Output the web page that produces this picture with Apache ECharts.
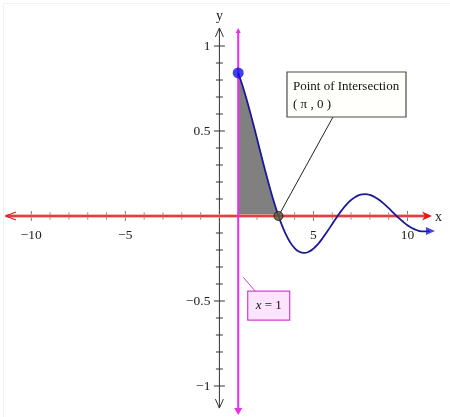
<!DOCTYPE html>
<html><head><meta charset="utf-8">
<script src="https://cdn.jsdelivr.net/npm/echarts@6/dist/echarts.min.js"></script>
<style>html,body{margin:0;padding:0;background:#fff}#c{width:450px;height:417px}</style>
</head><body><div id="c"></div>
<script>
// ---- data ----
const curveX = [1,1.25,1.5,1.75,2,2.25,2.5,2.75,3,3.1416,3.25,3.5,3.75,4,4.25,4.5,4.75,5,5.25,5.5,5.75,6,6.25,6.5,6.75,7,7.25,7.5,7.75,8,8.25,8.5,8.75,9,9.25,9.5,9.75,10,10.25,10.5,10.75,11,11.17];
const curveY = [0.8415,0.7592,0.6650,0.5623,0.4546,0.3458,0.2394,0.1388,0.0470,0,-0.0333,-0.1002,-0.1524,-0.1892,-0.2106,-0.2172,-0.2104,-0.1918,-0.1636,-0.1283,-0.0885,-0.0466,-0.0053,0.0331,0.0667,0.0939,0.1135,0.1251,0.1284,0.1237,0.1117,0.0939,0.0714,0.0458,0.0188,-0.0079,-0.0327,-0.0544,-0.0717,-0.0838,-0.0902,-0.0909,-0.0882];
const shadeEndIndex = 9;              // shading from x = 1 to x = π
const startPoint = [1, 0.8415];
const intersectionPoint = [3.1416, 0];
const verticalLineX = 1;
const verticalLineSpan = [1.106, -1.17];
const xAxisSpan = [-11.35, 11.3];
const yAxisSpan = [-1.13, 1.106];
const xTickValues = [-10,-9,-8,-7,-6,-5,-4,-3,-2,-1,1,2,3,4,5,6,7,8,9,10];
const yTickValues = [-1,-0.9,-0.8,-0.7,-0.6,-0.5,-0.4,-0.3,-0.2,-0.1,0.1,0.2,0.3,0.4,0.5,0.6,0.7,0.8,0.9,1];
const xLabelValues = [-10,-5,5,10];
const yLabelValues = [-1,-0.5,0.5,1];
const calloutText = 'Point of Intersection\n( π , 0 )';
const lineLabelAnchor = [1, -0.36];

const curveData = curveX.map((x, i) => [x, curveY[i]]);
const shadeData = curveData.slice(0, shadeEndIndex + 1);
const endPoint = curveData[curveData.length - 1];

const serif = '"Liberation Serif","Times New Roman",serif';
const minus = v => String(v).replace('-', '\u2212');

function isMajor(v, step) { return Math.abs(v / step - Math.round(v / step)) < 1e-6; }

function renderAxes(params, api) {
  const o = api.coord([0, 0]);
  const xl = api.coord([xAxisSpan[0], 0]), xr = api.coord([xAxisSpan[1], 0]);
  const yb = api.coord([0, yAxisSpan[0]]), yt = api.coord([0, yAxisSpan[1]]);
  const ch = [];
  xTickValues.forEach(v => {
    const p = api.coord([v, 0]);
    const h = isMajor(v, 5) ? 5 : 3.5;
    ch.push({type:'line', shape:{x1:p[0], y1:p[1]-h, x2:p[0], y2:p[1]+h}, style:{stroke:'#7a7a7a', lineWidth:1}});
  });
  yTickValues.forEach(v => {
    const p = api.coord([0, v]);
    const h = isMajor(v, 0.5) ? 5.5 : 3.5;
    ch.push({type:'line', shape:{x1:p[0]-h, y1:p[1], x2:p[0]+h, y2:p[1]}, style:{stroke:'#333', lineWidth:1}});
  });
  xLabelValues.forEach(v => {
    const p = api.coord([v, 0]);
    ch.push({type:'text', style:{x:p[0], y:p[1]+19, text:minus(v), font:'13.5px ' + serif, fill:'#222', textAlign:'center', textVerticalAlign:'middle'}});
  });
  yLabelValues.forEach(v => {
    const p = api.coord([0, v]);
    ch.push({type:'text', style:{x:p[0]-9, y:p[1], text:minus(v), font:'13.5px ' + serif, fill:'#222', textAlign:'right', textVerticalAlign:'middle'}});
  });
  ch.push({type:'line', shape:{x1:o[0], y1:yb[1], x2:o[0], y2:yt[1]}, style:{stroke:'#333', lineWidth:1}});
  ch.push({type:'polyline', shape:{points:[[o[0]-4, yt[1]+9],[o[0], yt[1]],[o[0]+4, yt[1]+9]]}, style:{stroke:'#333', lineWidth:1, fill:'none'}});
  ch.push({type:'polyline', shape:{points:[[o[0]-4, yb[1]-9],[o[0], yb[1]],[o[0]+4, yb[1]-9]]}, style:{stroke:'#333', lineWidth:1, fill:'none'}});
  ch.push({type:'line', shape:{x1:xl[0], y1:o[1], x2:xr[0]-4, y2:o[1]}, style:{stroke:'#f4a0a0', lineWidth:3.5}});
  ch.push({type:'line', shape:{x1:xl[0], y1:o[1], x2:xr[0]-4, y2:o[1]}, style:{stroke:'#dd2020', lineWidth:1.6}});
  ch.push({type:'polyline', shape:{points:[[xl[0]+10, o[1]-4],[xl[0], o[1]],[xl[0]+10, o[1]+4]]}, style:{stroke:'#dd2020', lineWidth:1.3, fill:'none'}});
  ch.push({type:'polygon', shape:{points:[[xr[0]-10, o[1]-4.5],[xr[0], o[1]],[xr[0]-10, o[1]+4.5],[xr[0]-7, o[1]]]}, style:{fill:'#e01818'}});
  ch.push({type:'text', style:{x:xr[0]+3, y:o[1]+1, text:'x', font:'14px ' + serif, fill:'#222', textAlign:'left', textVerticalAlign:'middle'}});
  ch.push({type:'text', style:{x:o[0], y:yt[1]-12, text:'y', font:'14px ' + serif, fill:'#222', textAlign:'center', textVerticalAlign:'middle'}});
  return {type:'group', children: ch};
}

function renderVertical(params, api) {
  const t = api.coord([verticalLineX, verticalLineSpan[0]]);
  const b = api.coord([verticalLineX, verticalLineSpan[1]]);
  return {type:'group', children:[
    {type:'line', shape:{x1:t[0], y1:t[1]+2, x2:b[0], y2:b[1]-4}, style:{stroke:'#e830e8', lineWidth:2}},
    {type:'polygon', shape:{points:[[t[0]-2.5, t[1]+5],[t[0], t[1]],[t[0]+2.5, t[1]+5]]}, style:{fill:'#e830e8'}},
    {type:'polygon', shape:{points:[[b[0]-4, b[1]-7],[b[0], b[1]],[b[0]+4, b[1]-7]]}, style:{fill:'#e830e8'}}
  ]};
}

function renderCallout(params, api) {
  const p = api.coord([api.value(0), api.value(1)]);
  const bx = p[0] + 8.5, by = p[1] - 144;
  return {type:'group', children:[
    {type:'line', shape:{x1:p[0], y1:p[1], x2:p[0] + 54.5, y2:p[1] - 99}, style:{stroke:'#222', lineWidth:1}},
    {type:'rect', shape:{x:bx, y:by, width:119, height:45}, style:{fill:'#fffffb', stroke:'#4a4a4a', lineWidth:1.2}},
    {type:'text', style:{x:bx + 6, y:by + 6, text:calloutText, font:'13px ' + serif, fill:'#111', lineHeight:18, textAlign:'left', textVerticalAlign:'top'}}
  ]};
}

function renderLineLabel(params, api) {
  const p = api.coord([api.value(0), api.value(1)]);
  return {type:'group', children:[
    {type:'line', shape:{x1:p[0] + 5, y1:p[1], x2:p[0] + 17, y2:p[1] + 14}, style:{stroke:'#d040d0', lineWidth:1}},
    {type:'rect', shape:{x:p[0] + 9.5, y:p[1] + 14, width:42, height:29}, style:{fill:'#fde4fd', stroke:'#d040d0', lineWidth:1.2}},
    {type:'text', style:{x:p[0] + 30.5, y:p[1] + 28.5, text:'{i|x} = 1', font:'13px ' + serif, fill:'#111', textAlign:'center', textVerticalAlign:'middle',
      rich:{i:{fontStyle:'italic', fontFamily:serif, fontSize:13, fill:'#111'}}}}
  ]};
}

const chart = echarts.init(document.getElementById('c'), null, {renderer:'canvas'});
chart.setOption({
  animation:false,
  backgroundColor:'#fff',
  grid:{left:0, right:0, top:0, bottom:0, outerBoundsMode:'none', containLabel:false},
  xAxis:{type:'value', min:-11.664, max:12.259,
    axisLine:{show:false}, axisTick:{show:false}, splitLine:{show:false}, axisLabel:{show:false}},
  yAxis:{type:'value', min:-1.1824, max:1.2706,
    axisLine:{show:false}, axisTick:{show:false}, splitLine:{show:false}, axisLabel:{show:false}},
  graphic:[{type:'rect', left:1, top:1, shape:{width:447, height:414}, style:{fill:'none', stroke:'#f6f0f0', lineWidth:1}, silent:true}],
  series:[
    {type:'line', data:shadeData, smooth:true, symbol:'none', lineStyle:{width:0}, areaStyle:{color:'#808080', opacity:1}, z:1},
    {type:'custom', renderItem:renderAxes, data:[[0,0]], clip:false, silent:true, z:2},
    {type:'custom', renderItem:renderVertical, data:[[verticalLineX, 0]], clip:false, silent:true, z:3},
    {type:'line', data:curveData, smooth:true, symbol:'none', lineStyle:{color:'#1a1a96', width:1.8}, z:4},
    {type:'scatter', data:[endPoint], symbol:'triangle', symbolSize:[8,9], symbolRotate:-90, symbolOffset:[1,0], itemStyle:{color:'#1a1ad0'}, z:5},
    {type:'custom', renderItem:renderCallout, data:[intersectionPoint], clip:false, silent:true, z:5},
    {type:'custom', renderItem:renderLineLabel, data:[lineLabelAnchor], clip:false, silent:true, z:5},
    {type:'scatter', data:[startPoint], symbol:'circle', symbolSize:11, itemStyle:{color:'#1010e8'}, z:6},
    {type:'scatter', data:[intersectionPoint], symbol:'circle', symbolSize:9, itemStyle:{color:'#5e5a3a', borderColor:'#111', borderWidth:1}, z:6}
  ]
});
</script></body></html>
